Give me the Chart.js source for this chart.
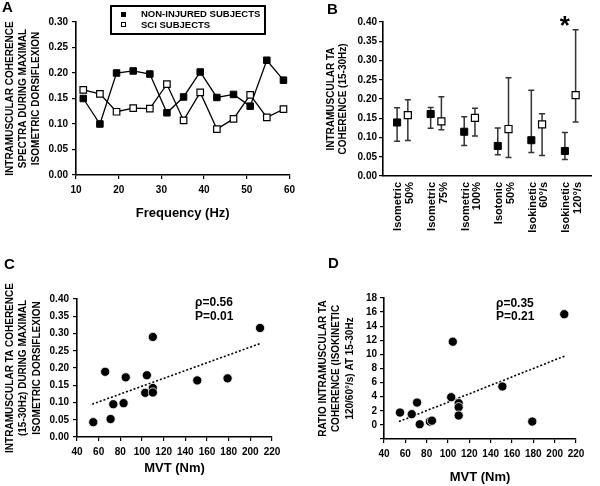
<!DOCTYPE html>
<html>
<head>
<meta charset="utf-8">
<script src="https://cdn.jsdelivr.net/npm/chart.js@4.4.0/dist/chart.umd.min.js"></script>
<style>
  body { margin: 0; background: #fff; }
  #wrap { position: relative; width: 600px; height: 486px; overflow: hidden;
          font-family: "Liberation Sans", Arial, sans-serif; font-weight: bold; color: #000; }
  .pane { position: absolute; }
  .letter { position: absolute; font-size: 15px; line-height: 15px; }
  #legA { position: absolute; left: 110px; top: 5px; width: 152px; height: 26px; border: 2px solid #000; background: #fff; font-size: 9.5px; }
  #legA .li { position: absolute; left: 0; height: 10px; line-height: 10px; white-space: nowrap; }
  #legA .mk { position: absolute; left: 9px; top: 2.5px; width: 5px; height: 5px; box-sizing: border-box; border: 1px solid #000; }
  #legA .tx { position: absolute; left: 29px; top: 0; }
</style>
</head>
<body>
<div id="wrap">
  <div class="pane" style="left:0;top:0"><canvas id="chartA" width="300" height="250"></canvas></div>
  <div class="pane" style="left:300px;top:0"><canvas id="chartB" width="300" height="250"></canvas></div>
  <div class="pane" style="left:0;top:250px"><canvas id="chartC" width="300" height="236"></canvas></div>
  <div class="pane" style="left:300px;top:250px"><canvas id="chartD" width="300" height="236"></canvas></div>
  <div class="letter" style="left:2px;top:-1px">A</div>
  <div class="letter" style="left:327px;top:1px">B</div>
  <div class="letter" style="left:4px;top:256px">C</div>
  <div class="letter" style="left:328px;top:255px">D</div>
  <div id="legA"></div>
</div>
<script>
// ---- data ----
var seriesNames = ["NON-INJURED SUBJECTS", "SCI SUBJECTS"];

// A: coherence spectra
var freq = [11.7, 15.6, 19.5, 23.4, 27.3, 31.3, 35.2, 39.1, 43.0, 46.9, 50.8, 54.7, 58.6];
var spectraNonInjured = [0.150, 0.100, 0.200, 0.204, 0.198, 0.122, 0.153, 0.202, 0.152, 0.158, 0.135, 0.225, 0.186];
var spectraSci = [0.167, 0.159, 0.124, 0.131, 0.130, 0.178, 0.107, 0.162, 0.090, 0.110, 0.157, 0.113, 0.129];

// B: coherence 15-30Hz by task (median + range)
var tasks = [["Isometric", "50%"], ["Isometric", "75%"], ["Isometric", "100%"], ["Isotonic", "50%"], ["Isokinetic", "60\u00b0/s"], ["Isokinetic", "120\u00b0/s"]];
var niMid = [0.139, 0.161, 0.115, 0.078, 0.093, 0.065];
var niLow = [0.090, 0.124, 0.079, 0.055, 0.061, 0.043];
var niHigh = [0.177, 0.178, 0.154, 0.125, 0.223, 0.113];
var sciMid = [0.158, 0.142, 0.151, 0.122, 0.134, 0.210];
var sciLow = [0.092, 0.120, 0.104, 0.048, 0.053, 0.140];
var sciHigh = [0.198, 0.206, 0.176, 0.255, 0.162, 0.380];
var significant = [false, false, false, false, false, true];

// C and D: vs MVT
var mvt = [55, 66, 71, 73.5, 83, 85, 103, 104.5, 110, 110, 110, 151, 179, 209];
var cohMax = [0.043, 0.189, 0.052, 0.095, 0.098, 0.173, 0.128, 0.179, 0.142, 0.129, 0.290, 0.164, 0.170, 0.316];
var ratioIsok = [1.75, 1.52, 3.17, 0.09, 0.47, 0.60, 3.93, 11.8, 3.08, 2.51, 1.33, 5.45, 0.47, 15.7];
var trendX = [54, 210];
var trendC = [0.095, 0.272];
var trendD = [0.47, 9.8];
var statsC = ["\u03c1=0.56", "P=0.01"];
var statsD = ["\u03c1=0.35", "P=0.21"];

// ---- common ----
var FONT = '"Liberation Sans", Arial, sans-serif';
Chart.defaults.font.family = FONT;
Chart.defaults.font.weight = 'bold';
Chart.defaults.color = '#000';
Chart.defaults.animation = false;
Chart.defaults.plugins.legend.display = false;
Chart.defaults.plugins.tooltip.enabled = false;

function pts(xs, ys) {
  return xs.map(function (x, i) { return { x: x, y: ys[i] }; });
}

function axisX(o) {
  return {
    type: 'linear', min: o.min, max: o.max,
    ticks: { stepSize: o.step, autoSkip: false, minRotation: 0, maxRotation: 0,
             font: { size: 10, weight: 'bold' }, padding: 5, color: '#000' },
    grid: { display: true, drawOnChartArea: false, drawTicks: true, tickLength: 4, color: '#000', lineWidth: 1.2 },
    border: { display: true, color: '#000', width: 1.6 },
    title: { display: true, text: o.title, font: { size: 13, weight: 'bold' }, padding: { top: 0, bottom: o.titlePad }, color: '#000' },
    afterFit: function (s) { s.height = o.h; }
  };
}

function axisY(o) {
  return {
    type: 'linear', min: o.min, max: o.max,
    ticks: { stepSize: o.step, autoSkip: false, font: { size: 10, weight: 'bold' }, padding: o.tickPad, color: '#000',
             callback: o.fmt },
    grid: { display: true, drawOnChartArea: false, drawTicks: true, tickLength: 4, color: '#000', lineWidth: 1.2 },
    border: { display: true, color: '#000', width: 1.6 },
    title: { display: true, text: o.title, font: { size: 10, weight: 'bold', lineHeight: o.lh }, padding: { top: o.titlePad, bottom: 0 }, color: '#000' },
    afterFit: function (s) { s.width = o.w; }
  };
}

function fix2(v) { return v.toFixed(2); }

var statText = {
  id: 'statText',
  afterDraw: function (chart, args, opts) {
    if (!opts.lines) return;
    var ctx = chart.ctx;
    var x = chart.scales.x.getPixelForValue(opts.x);
    var y = chart.scales.y.getPixelForValue(opts.y);
    ctx.save();
    ctx.font = 'bold 12px ' + FONT;
    ctx.fillStyle = '#000';
    ctx.textAlign = 'left';
    ctx.textBaseline = 'middle';
    opts.lines.forEach(function (t, i) { ctx.fillText(t, x, y + i * 13.3); });
    ctx.restore();
  }
};

var errorBars = {
  id: 'errorBars',
  beforeDatasetsDraw: function (chart) {
    var ctx = chart.ctx, xs = chart.scales.x, ys = chart.scales.y;
    ctx.save();
    ctx.strokeStyle = '#333';
    ctx.lineWidth = 1.5;
    chart.data.datasets.forEach(function (ds) {
      ds.data.forEach(function (p, i) {
        var x = xs.getPixelForValue(p.x);
        var y1 = ys.getPixelForValue(ds.errLow[i]);
        var y2 = ys.getPixelForValue(ds.errHigh[i]);
        ctx.beginPath();
        ctx.moveTo(x, y1); ctx.lineTo(x, y2);
        ctx.moveTo(x - 3, y1); ctx.lineTo(x + 3, y1);
        ctx.moveTo(x - 3, y2); ctx.lineTo(x + 3, y2);
        ctx.stroke();
      });
    });
    ctx.restore();
  },
  afterDraw: function (chart) {
    var ctx = chart.ctx, xs = chart.scales.x;
    ctx.save();
    ctx.font = 'bold 26px ' + FONT;
    ctx.fillStyle = '#000';
    ctx.textAlign = 'center';
    ctx.textBaseline = 'alphabetic';
    significant.forEach(function (s, i) {
      if (s) ctx.fillText('*', xs.getPixelForValue(i + 1 - 0.16), chart.chartArea.top + 12);
    });
    ctx.restore();
  }
};

// ---- legend A (html) ----
var leg = document.getElementById('legA');
seriesNames.forEach(function (name, i) {
  var li = document.createElement('div');
  li.className = 'li';
  li.style.top = (2 + i * 10.5) + 'px';
  li.innerHTML = '<span class="mk" style="background:' + (i === 0 ? '#000' : '#fff') + '"></span><span class="tx">' + name + '</span>';
  leg.appendChild(li);
});

// ---- A ----
new Chart(document.getElementById('chartA'), {
  type: 'scatter',
  data: {
    datasets: [
      { label: seriesNames[1], data: pts(freq, spectraSci), showLine: true, borderColor: '#000', borderWidth: 1.3,
        pointStyle: 'rect', pointRadius: 4.6, pointBackgroundColor: '#fff', pointBorderColor: '#000', pointBorderWidth: 1.2 },
      { label: seriesNames[0], data: pts(freq, spectraNonInjured), showLine: true, borderColor: '#000', borderWidth: 1.3,
        pointStyle: 'rect', pointRadius: 4.6, pointBackgroundColor: '#000', pointBorderColor: '#000', pointBorderWidth: 1 }
    ]
  },
  options: {
    responsive: false, devicePixelRatio: 1,
    layout: { padding: { top: 22, right: 10, left: 0, bottom: 0 } },
    scales: {
      x: axisX({ min: 10, max: 60, step: 10, title: 'Frequency (Hz)', titlePad: 29, h: 75 }),
      y: axisY({ min: 0, max: 0.3, step: 0.05, fmt: fix2, tickPad: 4, w: 76, lh: 1.33, titlePad: 3.4,
                 title: ['INTRAMUSCULAR COHERENCE', 'SPECTRA DURING MAXIMAL', 'ISOMETRIC DORSIFLEXION'] })
    }
  }
});

// ---- B ----
var xB = tasks.map(function (t, i) { return i + 1; });
var bScales = {
  x: {
    type: 'linear', min: 0.42, max: 6.64,
    afterBuildTicks: function (s) { s.ticks = xB.map(function (v) { return { value: v }; }); },
    ticks: { autoSkip: false, minRotation: 90, maxRotation: 90, padding: 6, labelOffset: -4,
             font: { size: 11, weight: 'bold', lineHeight: 1.05 }, color: '#000',
             callback: function (v) { return tasks[Math.round(v) - 1]; } },
    grid: { display: false, drawTicks: false },
    border: { display: true, color: '#000', width: 1.6 },
    afterFit: function (s) { s.height = 74; }
  },
  y: axisY({ min: 0, max: 0.4, step: 0.05, fmt: fix2, tickPad: 2, w: 83, lh: 1.2, titlePad: 25.7,
             title: ['INTRAMUSCULAR TA', 'COHERENCE (15-30Hz)'] })
};
new Chart(document.getElementById('chartB'), {
  type: 'scatter',
  data: {
    datasets: [
      { label: seriesNames[1], data: pts(xB.map(function (v) { return v + 0.16; }), sciMid), errLow: sciLow, errHigh: sciHigh,
        pointStyle: 'rect', pointRadius: 5, pointBackgroundColor: '#fff', pointBorderColor: '#000', pointBorderWidth: 1.2 },
      { label: seriesNames[0], data: pts(xB.map(function (v) { return v - 0.16; }), niMid), errLow: niLow, errHigh: niHigh,
        pointStyle: 'rect', pointRadius: 5, pointBackgroundColor: '#000', pointBorderColor: '#000', pointBorderWidth: 1 }
    ]
  },
  options: {
    responsive: false, devicePixelRatio: 1,
    layout: { padding: { top: 22, right: 2, left: 0, bottom: 0 } },
    scales: bScales
  },
  plugins: [errorBars]
});

// ---- C ----
new Chart(document.getElementById('chartC'), {
  type: 'scatter',
  data: {
    datasets: [
      { data: pts(mvt, cohMax), pointRadius: 4.6, pointBackgroundColor: '#000', pointBorderColor: '#fff', pointBorderWidth: 0.8 },
      { data: pts(trendX, trendC), showLine: true, pointRadius: 0, borderColor: '#000', borderWidth: 1.6, borderDash: [2, 2] }
    ]
  },
  options: {
    responsive: false, devicePixelRatio: 1,
    layout: { padding: { top: 49, right: 28, left: 0, bottom: 0 } },
    scales: {
      x: axisX({ min: 40, max: 220, step: 20, title: 'MVT (Nm)', titlePad: 10.2, h: 49 }),
      y: axisY({ min: 0, max: 0.4, step: 0.05, fmt: fix2, tickPad: 4, w: 77, lh: 1.35, titlePad: 3.3,
                 title: ['INTRAMUSCULAR TA COHERENCE', '(15-30Hz) DURING MAXIMAL', 'ISOMETRIC DORSIFLEXION'] })
    },
    plugins: { statText: { lines: statsC, x: 149, y: 0.388 } }
  },
  plugins: [statText]
});

// ---- D ----
new Chart(document.getElementById('chartD'), {
  type: 'scatter',
  data: {
    datasets: [
      { data: pts(mvt, ratioIsok), pointRadius: 4.6, pointBackgroundColor: '#000', pointBorderColor: '#fff', pointBorderWidth: 0.8 },
      { data: pts(trendX, trendD), showLine: true, pointRadius: 0, borderColor: '#000', borderWidth: 1.6, borderDash: [2, 2] }
    ]
  },
  options: {
    responsive: false, devicePixelRatio: 1,
    layout: { padding: { top: 48, right: 24, left: 0, bottom: 0 } },
    scales: {
      x: axisX({ min: 40, max: 220, step: 20, title: 'MVT (Nm)', titlePad: 1.2, h: 47 }),
      y: axisY({ min: -2, max: 18, step: 2, tickPad: 3, w: 84, lh: 1.35, titlePad: 16,
                 fmt: function (v) { return v < 0 ? '' : String(v); },
                 title: ['RATIO INTRAMUSCULAR TA', 'COHERENCE (ISOKINETIC', '120/60\u00b0/s) AT 15-30Hz'] })
    },
    plugins: { statText: { lines: statsD, x: 145, y: 17.25 } }
  },
  plugins: [statText]
});
</script>
</body>
</html>
